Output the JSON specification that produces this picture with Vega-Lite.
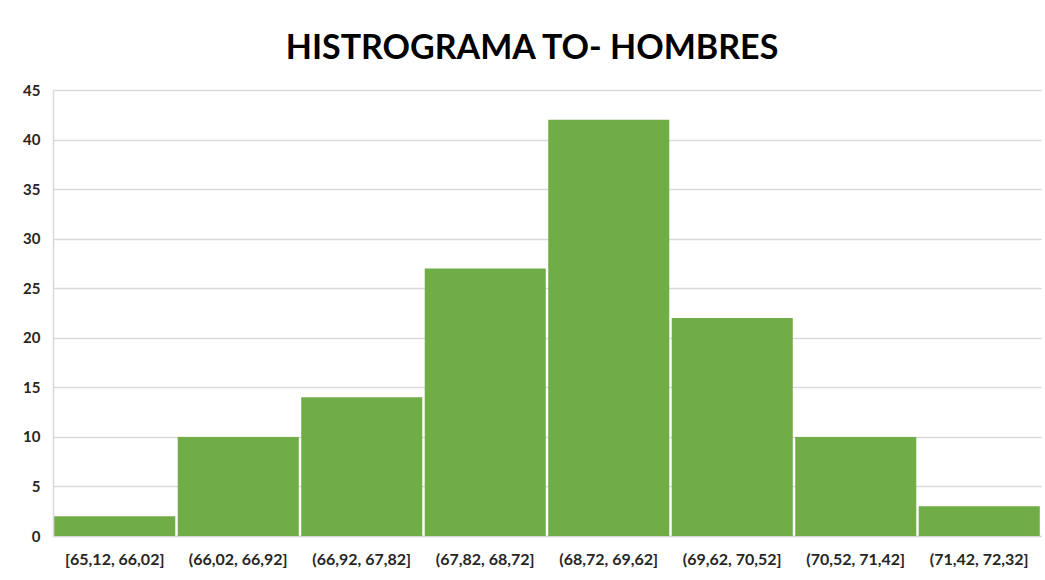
{
  "$schema": "https://vega.github.io/schema/vega-lite/v6.json",
  "width": 988,
  "height": 446,
  "autosize": {"type": "none"},
  "padding": {"left": 53, "top": 90, "right": 4, "bottom": 44},
  "background": "white",
  "title": {
    "text": "HISTROGRAMA TO- HOMBRES",
    "font": "Lato",
    "fontSize": 34,
    "fontWeight": "bold",
    "color": "#000000",
    "anchor": "middle",
    "dx": -15,
    "offset": 17
  },
  "data": {
    "values": [
      {"bin": "[65,12, 66,02]", "count": 2},
      {"bin": "(66,02, 66,92]", "count": 10},
      {"bin": "(66,92, 67,82]", "count": 14},
      {"bin": "(67,82, 68,72]", "count": 27},
      {"bin": "(68,72, 69,62]", "count": 42},
      {"bin": "(69,62, 70,52]", "count": 22},
      {"bin": "(70,52, 71,42]", "count": 10},
      {"bin": "(71,42, 72,32]", "count": 3}
    ]
  },
  "mark": {"type": "bar", "color": "#70AD47"},
  "encoding": {
    "x": {
      "field": "bin",
      "type": "nominal",
      "sort": null,
      "scale": {"paddingInner": 0.02, "paddingOuter": 0.01},
      "axis": {
        "title": null,
        "labelAngle": 0,
        "labelFont": "Lato",
        "labelFontSize": 16,
        "labelFontWeight": "bold",
        "labelColor": "#262626",
        "labelPadding": 15,
        "ticks": false,
        "domainColor": "#d9d9d9",
        "domainWidth": 1.5,
        "grid": false
      }
    },
    "y": {
      "field": "count",
      "type": "quantitative",
      "scale": {"domain": [0, 45], "nice": false},
      "axis": {
        "title": null,
        "values": [0, 5, 10, 15, 20, 25, 30, 35, 40, 45],
        "labelFont": "Lato",
        "labelFontSize": 15,
        "labelFontWeight": "bold",
        "labelColor": "#262626",
        "labelPadding": 13,
        "ticks": false,
        "domainColor": "#d9d9d9",
        "domainWidth": 1.5,
        "gridColor": "#d9d9d9",
        "gridWidth": 1.5
      }
    }
  },
  "config": {
    "view": {"stroke": null}
  }
}
